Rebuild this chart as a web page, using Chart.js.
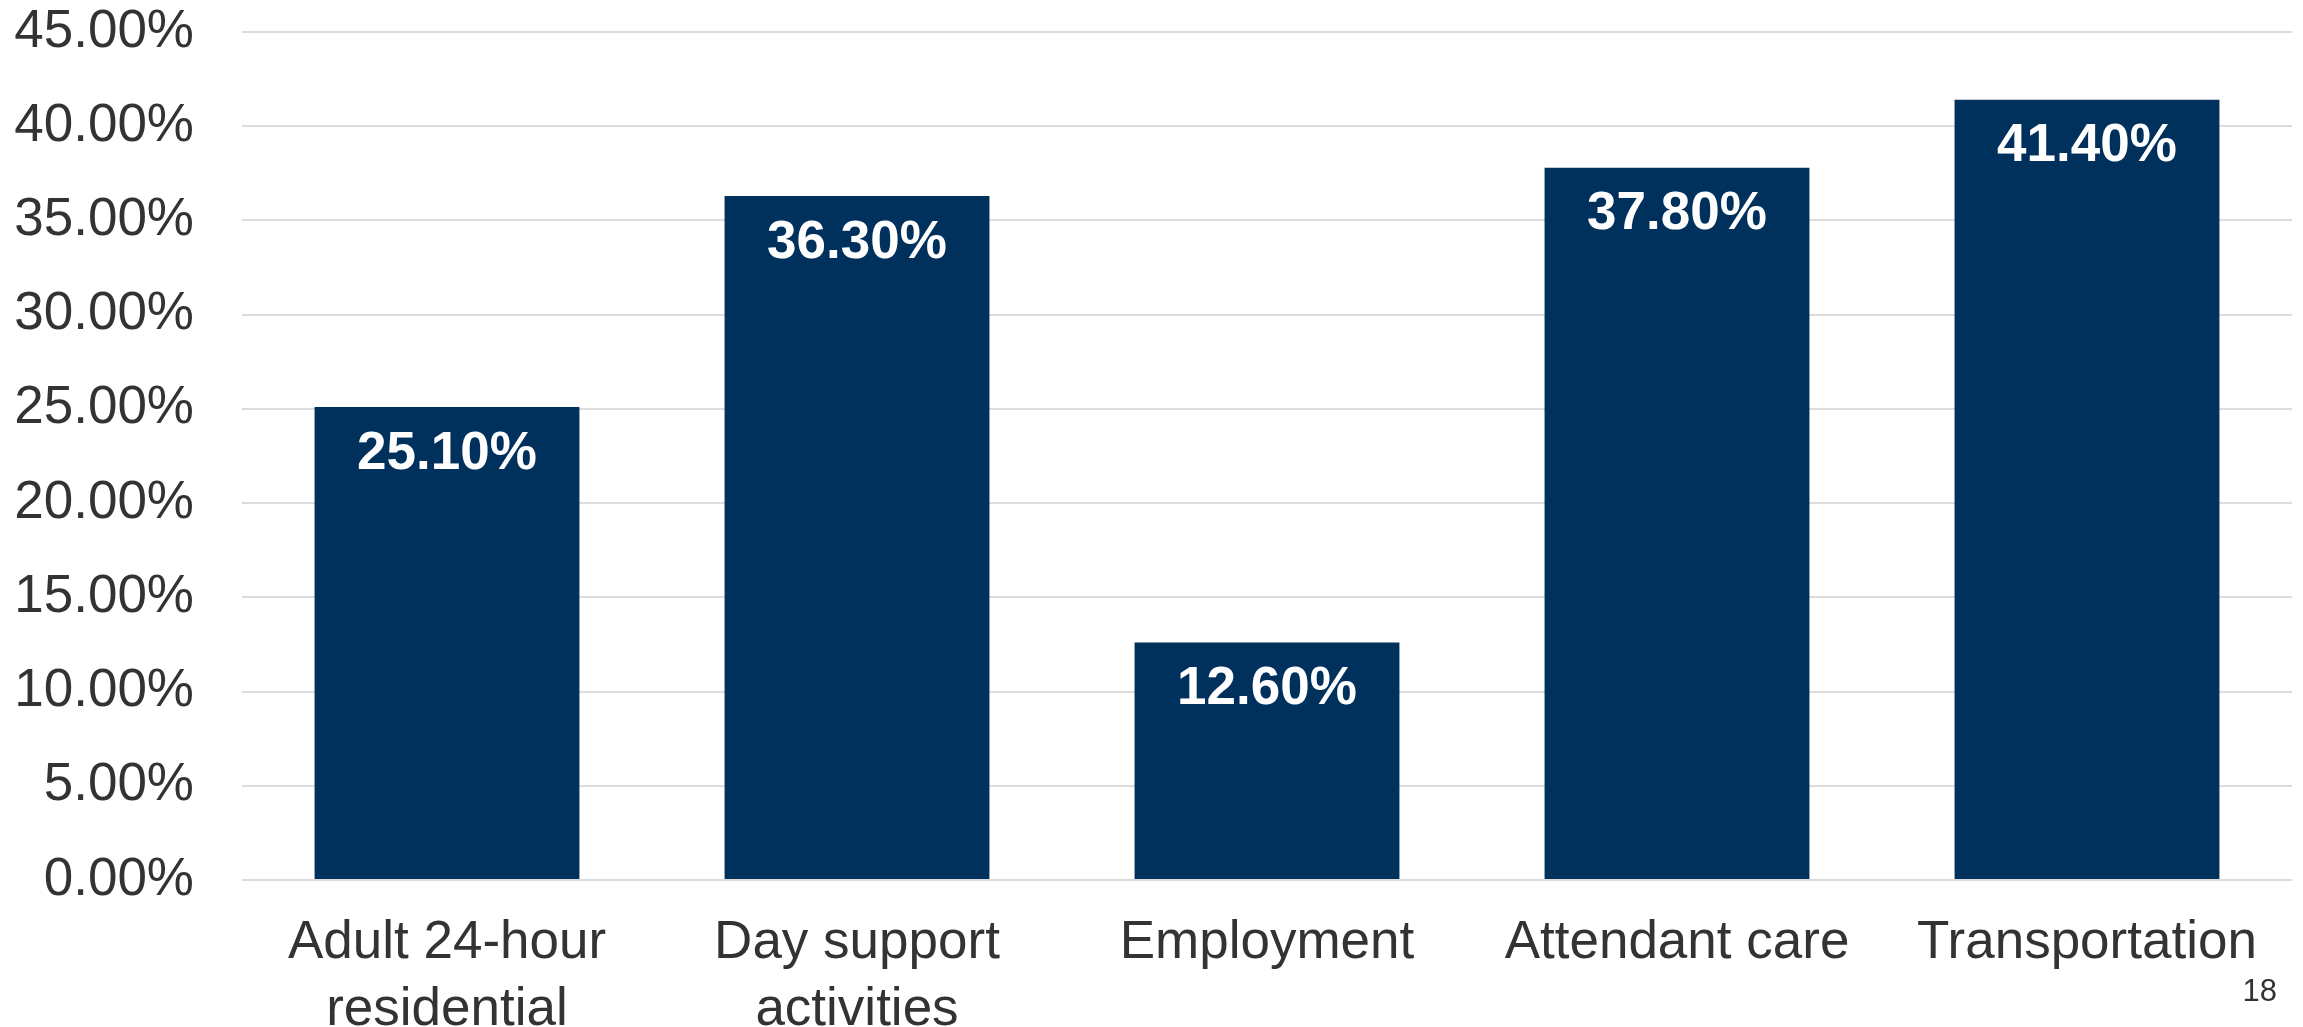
<!DOCTYPE html>
<html>
<head>
<meta charset="utf-8">
<script src="https://cdn.jsdelivr.net/npm/chart.js@4.4.1/dist/chart.umd.min.js"></script>
<style>
  html, body { margin: 0; padding: 0; background: #ffffff; }
  #wrap { position: relative; width: 2303px; height: 1027px; }
</style>
</head>
<body>
<div id="wrap"><canvas id="chart"></canvas></div>
<script>
// --- DATA ---
const categories = [
    ['Adult 24-hour', 'residential'],
    ['Day support', 'activities'],
    'Employment',
    'Attendant care',
    'Transportation'
];
const shares = [25.1, 36.3, 12.6, 37.8, 41.4];
const yTicks = [0, 5, 10, 15, 20, 25, 30, 35, 40, 45];
const pageNumber = '18';

const barColor = '#00305C';
const textColor = '#333333';
const fontFamily = '"Liberation Sans", Arial, sans-serif';

// value labels inside the top of each bar, plus the slide number
const barLabels = {
    id: 'barLabels',
    afterDatasetsDraw(chart) {
        const ctx = chart.ctx;
        const meta = chart.getDatasetMeta(0);
        ctx.save();
        ctx.fillStyle = '#ffffff';
        ctx.font = 'bold 53px ' + fontFamily;
        ctx.textAlign = 'center';
        ctx.textBaseline = 'middle';
        meta.data.forEach((bar, i) => {
            ctx.fillText(shares[i].toFixed(2) + '%', bar.x, bar.y + 47);
        });
        ctx.fillStyle = textColor;
        ctx.font = '31px ' + fontFamily;
        ctx.textAlign = 'right';
        ctx.fillText(pageNumber, chart.width - 26, 992);
        ctx.restore();
    }
};

new Chart(document.getElementById('chart'), {
    type: 'bar',
    data: {
        labels: categories,
        datasets: [{
            data: shares,
            backgroundColor: barColor,
            categoryPercentage: 1,
            barPercentage: 0.646
        }]
    },
    options: {
        responsive: true,
        maintainAspectRatio: false,
        animation: false,
        layout: { padding: { top: 32, right: 11, bottom: 0, left: 0 } },
        plugins: { legend: { display: false }, tooltip: { enabled: false } },
        scales: {
            x: {
                grid: { display: false, drawTicks: false },
                border: { display: false },
                ticks: {
                    color: textColor,
                    font: { family: fontFamily, size: 53, lineHeight: 1.28 },
                    padding: 29,
                    maxRotation: 0,
                    autoSkip: false
                },
                afterFit: (scale) => { scale.height = 147; }
            },
            y: {
                min: 0,
                max: 45,
                afterBuildTicks: (scale) => { scale.ticks = yTicks.map(v => ({ value: v })); },
                // tick marks are invisible; their length just spaces the labels from the plot
                grid: { color: '#dcdcdf', lineWidth: 2, drawTicks: true, tickLength: 48, tickColor: 'rgba(0,0,0,0)' },
                border: { display: false },
                ticks: {
                    color: textColor,
                    font: { family: fontFamily, size: 53, lineHeight: 1.0 },
                    padding: 0,
                    callback: (v) => Number(v).toFixed(2) + '%'
                },
                afterFit: (scale) => { scale.width = 242; }
            }
        }
    },
    plugins: [barLabels]
});
</script>
</body>
</html>
